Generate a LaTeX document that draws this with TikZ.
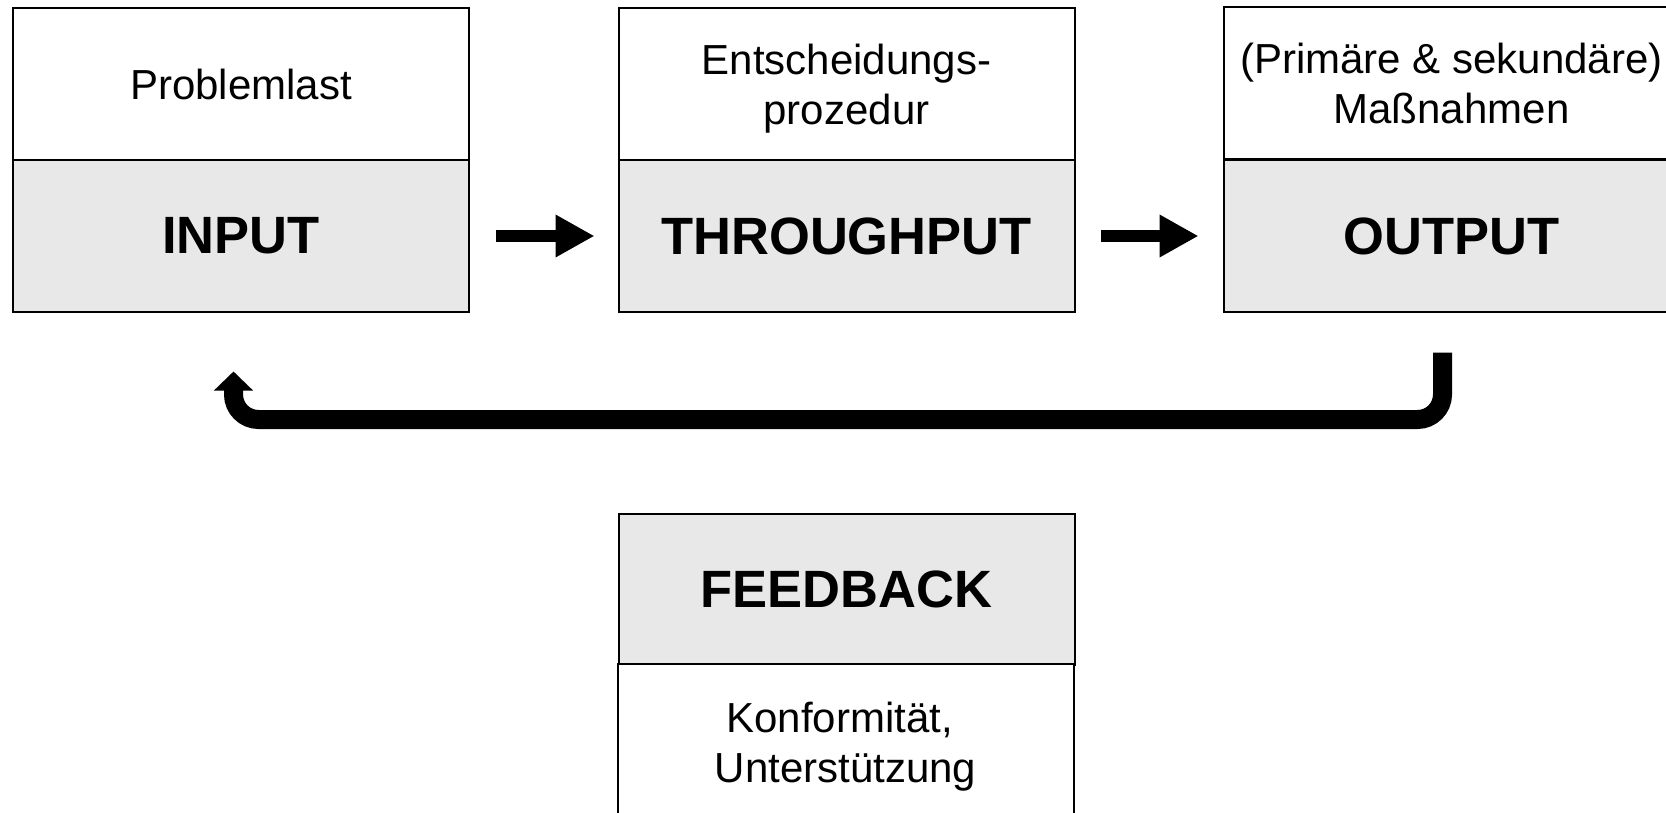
\documentclass[tikz,border=0pt]{standalone}
\usepackage{fontspec}
\setmainfont{Liberation Sans}
\usetikzlibrary{arrows.meta,calc}
\definecolor{boxgray}{HTML}{E8E8E8}
\begin{document}
\begin{tikzpicture}[x=0.5pt,y=-0.5pt,
  font=\fontsize{21}{25}\selectfont,
  box/.style={draw=black, line width=1pt, minimum width=228pt, inner sep=0pt, outer sep=0pt, align=center},
  toplabel/.style={box, fill=white, minimum height=76pt},
  mainlabel/.style={box, fill=boxgray, minimum height=75.5pt, font=\fontsize{26.25}{30}\selectfont\bfseries},
  flowarrow/.style={line width=6pt, -{Triangle[length=19.5pt,width=20pt]}},
  backarrow/.style={line width=9.5pt, rounded corners=12.5pt, -{Triangle[length=9.5pt,width=19pt]}}
]
\useasboundingbox (0,0) rectangle (1666,813);
\clip (0,0) rectangle (1666,813);
\fill[white] (0,0) rectangle (1666,813);

\node[toplabel] (inT) at (241,84.5) {Problemlast};
\node[mainlabel] (in) at (241,236) {INPUT};
\node[toplabel, label={[align=center, yshift=-2pt]center:Entscheidungs-\\prozedur}] (thT) at (846.5,84.5) {};
\node[mainlabel] (th) at (846.5,236) {THROUGHPUT};
\node[toplabel] (outT) at (1451.5,83) {(Primäre \& sekundäre)\\Maßnahmen};
\node[mainlabel] (out) at (1451.5,236) {OUTPUT};
\node[mainlabel] (fb) at (846.5,589) {FEEDBACK};
\node[toplabel, minimum height=82.5pt] (fbT) at (845.5,746.5) {\mbox{Konformität,\ }\\Unterstützung};

\draw[flowarrow, shorten <=13.5pt, shorten >=12pt] (in) -- (th);
\draw[flowarrow, shorten <=13pt, shorten >=12.5pt] (th) -- (out);

\coordinate (fbs) at ($(out.south)+(-9,41)$);
\coordinate (fbe) at ($(in.south)+(-7.5,60)$);
\draw[backarrow] (fbs) -- (fbs |- 0,419.5) -- (fbe |- 0,419.5) -- (fbe);
\end{tikzpicture}
\end{document}
